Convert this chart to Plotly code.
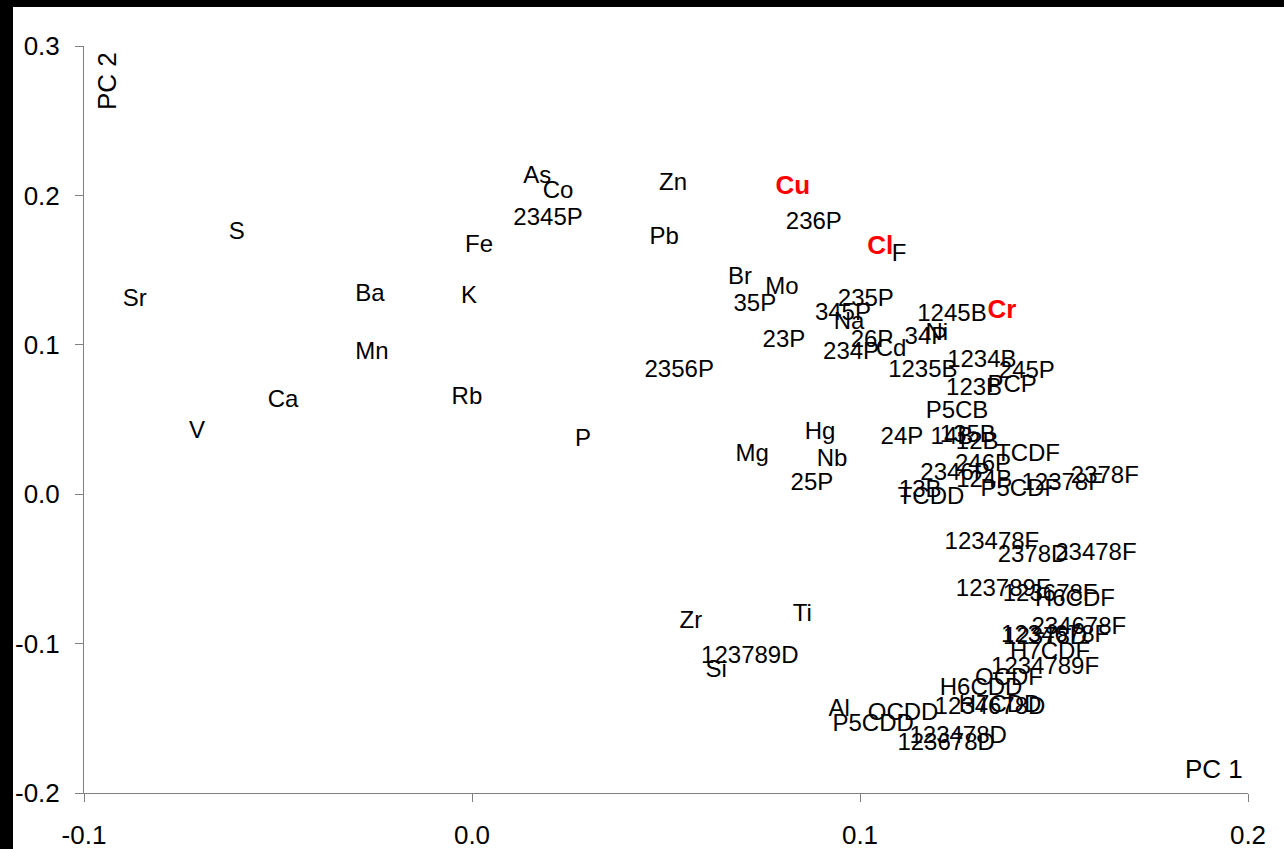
import plotly.graph_objects as go

# Black labels (variables / congeners) with PC1, PC2 loadings
labels = ["Sr", "S", "Fe", "Ba", "K", "Mn", "Ca", "Rb", "V", "As", "Co", "2345P", "Zn", "Pb",
          "236P", "F", "Br", "Mo", "35P", "235P", "345P", "Na", "1245B", "23P", "26P", "234P",
          "Cd", "34P", "Ni", "1235B", "1234B", "245P", "PCP", "123B", "P5CB", "24P", "14B",
          "135B", "12B", "TCDF", "246P", "2346P", "124B", "P5CDF", "12378F", "2378F", "13B",
          "TCDD", "123478F", "2378D", "23478F", "123789F", "123678F", "H6CDF", "234678F",
          "1234678F", "12378D", "H7CDF", "1234789F", "OCDF", "H6CDD", "1234678D", "H7CDD",
          "Al", "OCDD", "P5CDD", "123478D", "123678D", "P", "Mg", "Hg", "Nb", "25P", "Zr",
          "Ti", "123789D", "Si", "2356P"]
pc1 = [-0.0869, -0.0606, 0.0018, -0.0263, -0.0008, -0.0258, -0.0487, -0.0013, -0.0709, 0.0168,
       0.0222, 0.0196, 0.0518, 0.0495, 0.0881, 0.1101, 0.0691, 0.0799, 0.0729, 0.1015, 0.0956,
       0.0972, 0.1237, 0.0804, 0.1031, 0.0977, 0.1080, 0.1170, 0.1198, 0.1162, 0.1314, 0.1430,
       0.1392, 0.1294, 0.1250, 0.1108, 0.1237, 0.1278, 0.1302, 0.1433, 0.1317, 0.1245, 0.1320,
       0.1412, 0.1521, 0.1631, 0.1155, 0.1183, 0.1340, 0.1446, 0.1608, 0.1369, 0.1490, 0.1554,
       0.1564, 0.1503, 0.1477, 0.1490, 0.1477, 0.1384, 0.1312, 0.1335, 0.1361, 0.0946, 0.1111,
       0.1034, 0.1253, 0.1222, 0.0286, 0.0722, 0.0897, 0.0928, 0.0876, 0.0564, 0.0851, 0.0716,
       0.0629, 0.0534]
pc2 = [0.1300, 0.1748, 0.1661, 0.1333, 0.1320, 0.0945, 0.0624, 0.0644, 0.0416, 0.2123, 0.2023,
       0.1842, 0.2076, 0.1715, 0.1815, 0.1601, 0.1447, 0.1380, 0.1266, 0.1300, 0.1206, 0.1146,
       0.1199, 0.1025, 0.1025, 0.0945, 0.0965, 0.1046, 0.1072, 0.0825, 0.0892, 0.0818, 0.0724,
       0.0704, 0.0550, 0.0376, 0.0376, 0.0390, 0.0343, 0.0262, 0.0195, 0.0135, 0.0088, 0.0028,
       0.0068, 0.0115, 0.0021, -0.0025, -0.0327, -0.0414, -0.0400, -0.0641, -0.0675, -0.0708,
       -0.0896, -0.0949, -0.0962, -0.1063, -0.1163, -0.1237, -0.1304, -0.1431, -0.1418, -0.1444,
       -0.1471, -0.1545, -0.1625, -0.1672, 0.0363, 0.0262, 0.0410, 0.0229, 0.0068, -0.0855,
       -0.0809, -0.1090, -0.1183, 0.0825]

# Highlighted (red, bold) labels
hl_labels = ["Cu", "Cl", "Cr"]
hl_pc1 = [0.0827, 0.1052, 0.1366]
hl_pc2 = [0.2050, 0.1648, 0.1220]

x_ticks = [-0.1, 0.0, 0.1, 0.2]
x_ticktext = ["-0.1", "0.0", "0.1", "0.2"]
y_ticks = [-0.2, -0.1, 0.0, 0.1, 0.2, 0.3]
y_ticktext = ["-0.2", "-0.1", "0.0", "0.1", "0.2", "0.3"]

FONT = "Liberation Sans, Arial, sans-serif"
FS = 24
FS_AX = 26

fig = go.Figure()
fig.add_trace(go.Scatter(x=pc1, y=pc2, text=labels, mode="text", textposition="middle center",
                         textfont=dict(family=FONT, size=FS, color="black"),
                         cliponaxis=False, showlegend=False, hoverinfo="skip"))
fig.add_trace(go.Scatter(x=hl_pc1, y=hl_pc2, text=hl_labels, mode="text", textposition="middle center",
                         textfont=dict(family=FONT, size=26, color="#ff0000", weight="bold"),
                         cliponaxis=False, showlegend=False, hoverinfo="skip"))

W, H = 1284, 849
L, R, T, B = 84, 36, 46, 56
pw, ph = W - L - R, H - T - B

# white page area inside black frame (black strips on left and top)
fig.add_shape(type="rect", xref="paper", yref="paper", layer="below",
              x0=(13 - L) / pw, x1=(W - L) / pw + 0.01,
              y0=-(B + 5) / ph, y1=(H - B - 7) / ph,
              fillcolor="white", line=dict(width=0))

fig.add_annotation(text="PC 2", xref="paper", yref="paper", x=(107 - L) / pw, y=(H - B - 81) / ph,
                   xanchor="center", yanchor="middle",
                   showarrow=False, textangle=-90, font=dict(family=FONT, size=FS_AX, color="black"))
fig.add_annotation(text="PC 1", xref="paper", yref="paper", x=(1214 - L) / pw, y=(H - B - 769) / ph,
                   xanchor="center", yanchor="middle",
                   showarrow=False, font=dict(family=FONT, size=FS_AX, color="black"))

axis_common = dict(showgrid=False, zeroline=False, showline=True, linecolor="#808080", linewidth=1,
                   ticks="outside", ticklen=8, tickcolor="#808080", tickwidth=1,
                   tickfont=dict(family=FONT, size=FS_AX, color="black"))
fig.update_xaxes(range=[-0.1, 0.2], tickvals=x_ticks, ticktext=x_ticktext, ticklabelstandoff=11, **axis_common)
fig.update_yaxes(range=[-0.2, 0.3], tickvals=y_ticks, ticktext=y_ticktext, ticklabelstandoff=10, **axis_common)

fig.update_layout(width=W, height=H, margin=dict(l=L, r=R, t=T, b=B, autoexpand=False),
                  paper_bgcolor="black", plot_bgcolor="white")
fig.write_html("out.html")
